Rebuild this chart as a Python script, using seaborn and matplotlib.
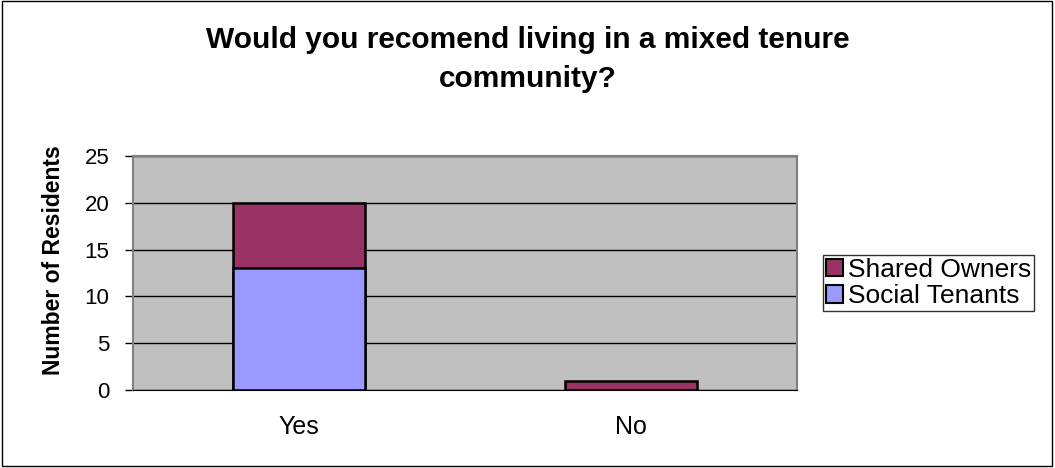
import matplotlib
matplotlib.use('Agg')
import matplotlib.pyplot as plt
import matplotlib.patches as mpatches
import seaborn as sns
import pandas as pd

# Data
answers = ['Yes', 'No']
social_tenants = [13, 0]
shared_owners = [7, 1]

sns.set_style('white')
plt.rcParams['font.family'] = ['Liberation Sans', 'DejaVu Sans']
plt.rcParams['text.color'] = 'black'
plt.rcParams['xtick.color'] = 'black'
plt.rcParams['ytick.color'] = 'black'
plt.rcParams['axes.labelcolor'] = 'black'

df = pd.DataFrame({'answer': answers,
                   'social': social_tenants,
                   'shared': shared_owners})
df['total'] = df['social'] + df['shared']

fig = plt.figure(figsize=(10.55, 4.68), dpi=100)
ax = fig.add_axes([0.1261, 0.1667, 0.6294, 0.5])
ax.set_facecolor('#C0C0C0')

# Stacked bars: total first (top segment), then social tenants on top of it
sns.barplot(x='answer', y='total', data=df, color='#993366', width=0.4,
            edgecolor='black', linewidth=1.8, saturation=1, ax=ax)
sns.barplot(x='answer', y='social', data=df[df['social'] > 0],
            order=answers, color='#9999FF', width=0.4,
            edgecolor='black', linewidth=1.8, saturation=1, ax=ax)

ax.set_xlim(-0.5, 1.5)
ax.set_ylim(0, 25)
ax.set_yticks([0, 5, 10, 15, 20, 25])
ax.yaxis.grid(True, color='black', linewidth=1)
ax.set_axisbelow(True)
ax.set_xticks([0, 1])
ax.set_xticks([-0.5, 0.5, 1.5], minor=True)
ax.tick_params(axis='x', which='major', length=0, labelsize=18, pad=18)
ax.tick_params(axis='x', which='minor', length=6, color='black', width=1)
ax.tick_params(axis='y', length=6, color='black', width=1, labelsize=16,
               pad=11, left=True)
for side in ['top', 'right', 'left']:
    ax.spines[side].set_color('#808080')
    ax.spines[side].set_linewidth(1.5)
ax.spines['bottom'].set_color('black')
ax.set_xlabel('')
ax.set_ylabel('Number of Residents', fontsize=16.5, fontweight='bold')
ax.yaxis.set_label_coords(-0.102, 0.556)

fig.suptitle('Would you recomend living in a mixed tenure\ncommunity?',
             x=0.5, y=0.945, fontsize=21.5, fontweight='bold',
             linespacing=1.5)

handles = [mpatches.Patch(facecolor='#993366', edgecolor='black',
                          linewidth=1.5, label='Shared Owners'),
           mpatches.Patch(facecolor='#9999FF', edgecolor='black',
                          linewidth=1.5, label='Social Tenants')]
fig.legend(handles=handles, loc='center left',
           bbox_to_anchor=(0.780, 0.395), fontsize=19, frameon=True,
           fancybox=False, edgecolor='black', handlelength=0.65,
           handleheight=0.65, handletextpad=0.2, borderpad=0.1,
           labelspacing=0.1, borderaxespad=0)

# Outer chart border
fig.patches.append(mpatches.Rectangle((0.002, 0.004), 0.995, 0.993,
                                      transform=fig.transFigure,
                                      fill=False, edgecolor='black',
                                      linewidth=1))

plt.savefig('out.png', dpi=100)
